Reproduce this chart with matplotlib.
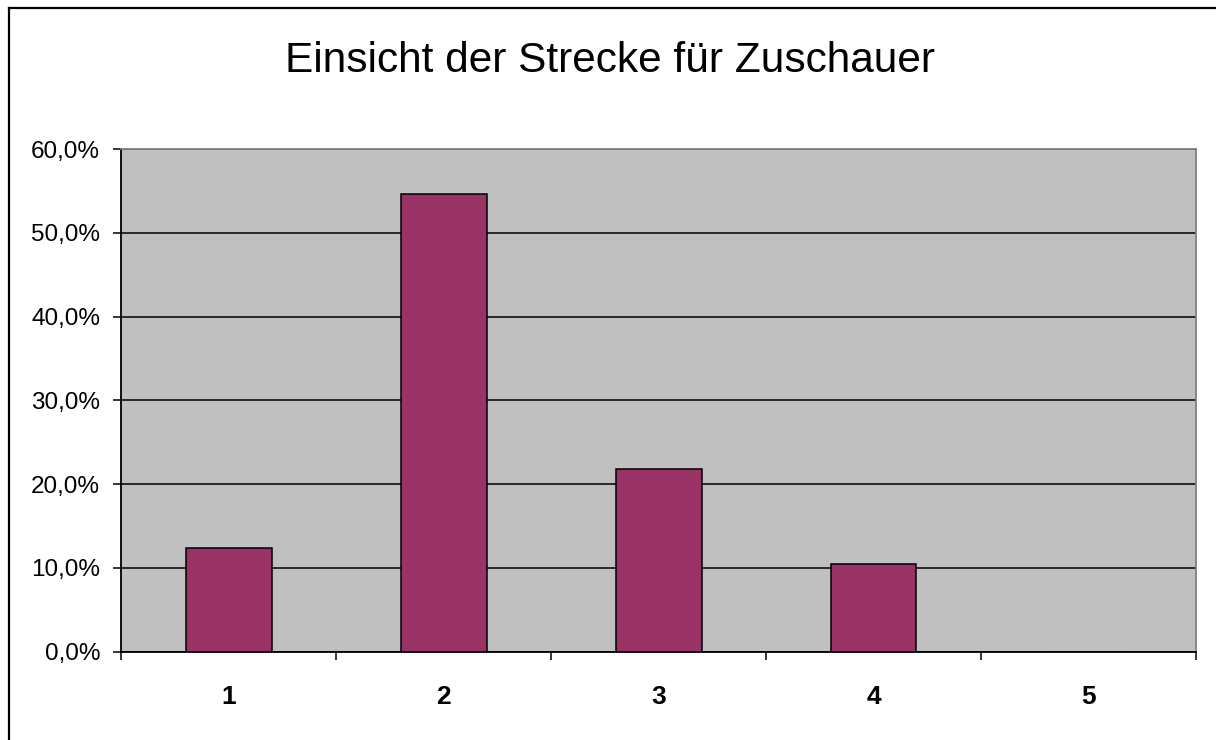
import matplotlib
matplotlib.use("Agg")
import matplotlib.pyplot as plt
import matplotlib.ticker as mticker
from matplotlib.lines import Line2D

plt.rcParams["font.family"] = ["Liberation Sans", "DejaVu Sans"]

# ── Data ──────────────────────────────────────────────────────────────────────
categories = ["1", "2", "3", "4", "5"]
shares = [0.124, 0.546, 0.218, 0.105, 0.0]
title = "Einsicht der Strecke für Zuschauer"

W, H = 1216, 740
fig = plt.figure(figsize=(W / 100, H / 100), dpi=100)
fig.patch.set_facecolor("white")

ax = fig.add_axes([121 / W, 1 - 651.5 / H, 1075 / W, 502.2 / H])
ax.set_facecolor("#C0C0C0")

x = list(range(1, len(categories) + 1))
ax.bar(x, shares, width=0.4, color="#993366", edgecolor="black",
       linewidth=1.1, zorder=3)

ax.set_xlim(0.5, len(categories) + 0.5)
ax.set_ylim(0, 0.6)

# y axis
ax.yaxis.set_major_locator(mticker.MultipleLocator(0.1))
ax.yaxis.set_major_formatter(
    mticker.FuncFormatter(lambda v, _: f"{v * 100:.1f}%".replace(".", ",")))
ax.tick_params(axis="y", direction="out", length=6, width=1.1,
               pad=9, labelsize=17.5, color="black")
ax.grid(axis="y", color="black", linewidth=1.1, zorder=1)
ax.set_axisbelow(True)

# x axis: ticks at boundaries, labels centred
bounds = [i + 0.5 for i in range(0, len(categories) + 1)]
ax.set_xticks(bounds)
ax.set_xticklabels([])
ax.set_xticks(x, minor=True)
ax.set_xticklabels(categories, minor=True, fontweight="bold", fontsize=19)
ax.tick_params(axis="x", which="major", direction="out", length=6, width=1.1)
ax.tick_params(axis="x", which="minor", length=0, pad=24)

for side in ("left", "bottom"):
    ax.spines[side].set_color("black")
    ax.spines[side].set_linewidth(1.3)
for side in ("top", "right"):
    ax.spines[side].set_color("#808080")
    ax.spines[side].set_linewidth(1.3)

fig.text(610 / W, 1 - 61 / H, title, ha="center", va="center", fontsize=30.5)

# chart area border (left and top visible)
bx, by = 8.5 / W, 1 - 7.5 / H
fig.add_artist(Line2D([bx, bx], [0, by], transform=fig.transFigure,
                      color="black", linewidth=1.6))
fig.add_artist(Line2D([bx, 1], [by, by], transform=fig.transFigure,
                      color="black", linewidth=1.6))

fig.savefig("out.png", dpi=100)
